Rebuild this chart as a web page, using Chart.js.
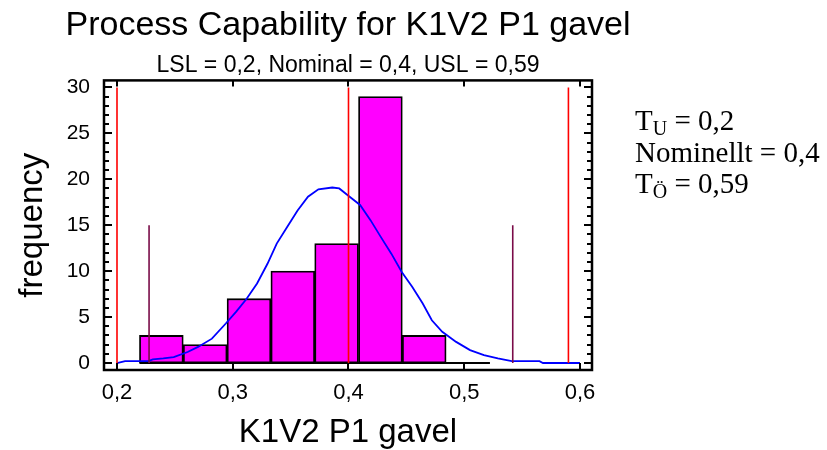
<!DOCTYPE html>
<html>
<head>
<meta charset="utf-8">
<script src="https://cdn.jsdelivr.net/npm/chart.js@4.4.1/dist/chart.umd.min.js"></script>
<style>
  body{margin:0;background:#fff;}
  #wrap{width:827px;height:450px;}
</style>
</head>
<body>
<div id="wrap"><canvas id="grafico" width="827" height="450"></canvas></div>
<script>
// histogram: bin edges and counts
const binEdges=[0.2194,0.25725,0.2951,0.33295,0.3708,0.40865,0.4465,0.48435,0.5222];
const counts=[3,2,7,10,13,29,3,0];

// fitted curve
const curveX=[0.2,0.207,0.227,0.231,0.240,0.249,0.261,0.270,0.282,0.294,0.303,0.312,0.321,0.330,0.338,0.347,0.356,0.365,0.374,0.386,0.392,0.401,0.410,0.419,0.428,0.437,0.446,0.455,0.464,0.472,0.481,0.493,0.505,0.517,0.529,0.541,0.565,0.568,0.6];
const curveY=[0,0.2,0.2,0.4,0.5,0.65,1.2,1.75,2.65,4.3,5.6,7.0,8.65,10.8,13.0,14.8,16.6,18.1,18.9,19.1,19.0,18.1,17.2,15.55,13.7,11.9,9.9,8.3,6.5,4.65,3.4,2.3,1.4,0.85,0.5,0.2,0.2,0,0];

// LSL, Nominal, USL and the +-3 sigma lines
const specX=[0.2,0.4,0.59];
const specTop=30;
const sigmaX=[0.2277,0.5419];
const sigmaTop=15;

const xTicks=[0.2,0.3,0.4,0.5,0.6];
const yTicks=[0,5,10,15,20,25,30];
const sideText=[['T','U',' = 0,2'],['Nominellt','',' = 0,4'],['T','Ö',' = 0,59']];

const coma=v=>Number(v).toFixed(1).replace('.',',');
const fuente='Arial, "Liberation Sans", sans-serif';

const barras=binEdges.slice(0,-1).map((e,i)=>({x:(e+binEdges[i+1])/2,y:counts[i]}));

const lineas=[];
specX.forEach(v=>lineas.push({type:'line',data:[{x:v,y:0},{x:v,y:specTop}],borderColor:'#ff0000',borderWidth:1.6,pointRadius:0,order:0}));
sigmaX.forEach(v=>lineas.push({type:'line',data:[{x:v,y:0},{x:v,y:sigmaTop}],borderColor:'#7a0c48',borderWidth:1.6,pointRadius:0,order:0}));

// frame with inward ticks + the text on the right
const marco={
  id:'marco',
  afterDatasetsDraw(chart){
    const c=chart.ctx, a=chart.chartArea, sx=chart.scales.x, sy=chart.scales.y;
    c.save();
    c.strokeStyle='#000';
    c.lineWidth=2.5;
    c.strokeRect(a.left,a.top,a.right-a.left,a.bottom-a.top);
    c.lineWidth=2;
    c.beginPath();
    for(let v=0;v<=30;v++){
      const y=Math.round(sy.getPixelForValue(v));
      const l=(v%5===0)?8:5;
      c.moveTo(a.left,y);c.lineTo(a.left+l,y);
      c.moveTo(a.right,y);c.lineTo(a.right-l,y);
    }
    xTicks.forEach(v=>{
      const x=Math.round(sx.getPixelForValue(v));
      c.moveTo(x,a.top);c.lineTo(x,a.top+6);
      c.moveTo(x,a.bottom);c.lineTo(x,a.bottom-7);
    });
    c.stroke();
    c.fillStyle='#000';
    c.textBaseline='alphabetic';
    sideText.forEach((t,i)=>{
      const y=130+i*31.5;
      let x=635;
      c.font='29px "Liberation Serif", "Times New Roman", serif';
      c.fillText(t[0],x,y);
      x+=c.measureText(t[0]).width;
      if(t[1]){
        c.font='20px "Liberation Serif", "Times New Roman", serif';
        c.fillText(t[1],x,y+5);
        x+=c.measureText(t[1]).width;
      }
      c.font='29px "Liberation Serif", "Times New Roman", serif';
      c.fillText(t[2],x,y);
    });
    c.restore();
  }
};

new Chart(document.getElementById('grafico').getContext('2d'),{
  type:'bar',
  data:{
    datasets:[
      {type:'bar',data:barras,backgroundColor:'#ff00ff',borderColor:'#000',borderWidth:1.8,borderSkipped:false,barPercentage:1,categoryPercentage:1,order:10},
      {type:'line',data:[{x:binEdges[0],y:0},{x:binEdges[binEdges.length-1],y:0}],borderColor:'#000',borderWidth:2,pointRadius:0,order:5},
      {type:'line',data:curveX.map((x,i)=>({x:x,y:curveY[i]})),borderColor:'#0000ff',borderWidth:1.8,pointRadius:0,tension:0,order:1},
      ...lineas
    ]
  },
  options:{
    responsive:false,
    animation:false,
    layout:{padding:{left:0,right:131,top:0,bottom:0}},
    plugins:{
      legend:{display:false},
      tooltip:{enabled:false},
      title:{display:true,text:'Process Capability for K1V2 P1 gavel',color:'#000',
        font:{family:fuente,size:34,weight:'normal',lineHeight:1.2},padding:{top:5,bottom:0}},
      subtitle:{display:true,text:'LSL = 0,2, Nominal = 0,4, USL = 0,59',color:'#000',
        font:{family:fuente,size:23,lineHeight:1.2},padding:{top:6,bottom:1}}
    },
    scales:{
      x:{type:'linear',min:0.18877,max:0.61037,offset:false,
        afterFit:s=>{s.height=80;},
        afterBuildTicks:s=>{s.ticks=xTicks.map(v=>({value:v}));},
        grid:{display:false,drawTicks:false},border:{display:false},
        ticks:{padding:10,color:'#000',font:{family:fuente,size:22},callback:v=>coma(v)},
        title:{display:true,text:'K1V2 P1 gavel',color:'#000',font:{family:fuente,size:33,lineHeight:1},padding:{top:0,bottom:1}}
      },
      y:{type:'linear',min:-0.761,max:30.761,
        afterFit:s=>{s.width=104;},
        afterBuildTicks:s=>{s.ticks=yTicks.map(v=>({value:v}));},
        grid:{display:false,drawTicks:false},border:{display:false},
        ticks:{padding:14,color:'#000',font:{family:fuente,size:21}},
        title:{display:true,text:'frequency',color:'#000',font:{family:fuente,size:33,lineHeight:1},padding:{top:16,bottom:0}}
      },
      // empty right box so the top titles are centred over the plot
      y2:{type:'linear',position:'right',min:0,max:1,display:true,
        afterFit:s=>{s.width=104;},
        grid:{display:false,drawTicks:false},border:{display:false},ticks:{display:false}}
    }
  },
  plugins:[marco]
});
</script>
</body>
</html>
